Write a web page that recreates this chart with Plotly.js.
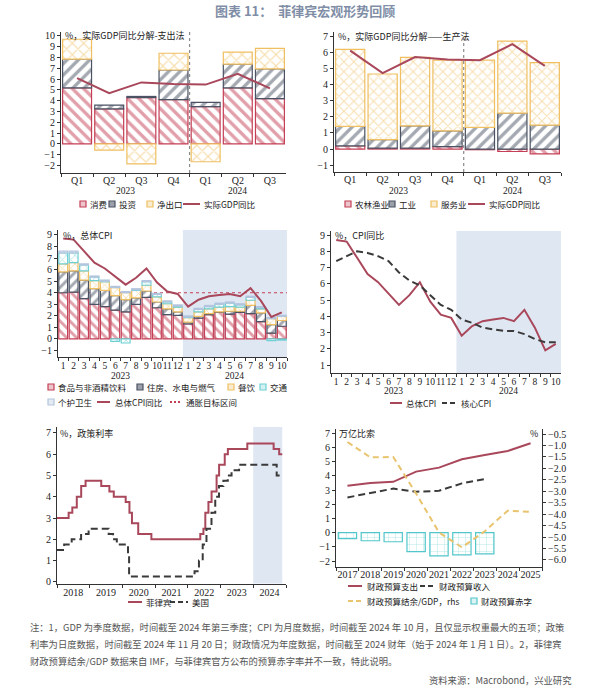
<!DOCTYPE html>
<html><head><meta charset="utf-8">
<script src="https://cdn.plot.ly/plotly-3.0.1.min.js"></script>
<style>html,body{margin:0;padding:0;background:#fff;}#chart{width:610px;height:691px;}</style>
</head><body><div id="chart"></div>
<script>
// ---------- DATA ----------
// Panel 1 & 2: real GDP y/y decomposition (quarterly)
const quarters = ['Q1','Q2','Q3','Q4','Q1','Q2','Q3'];
const qYears = ['2023','2023','2023','2023','2024','2024','2024'];
const consumption = [5.2, 3.25, 4.3, 4.1, 3.45, 5.2, 4.2];
const investment = [2.65, 0.35, 0.1, 2.75, 0.4, 2.2, 2.75];
const netExports = [1.85, -0.58, -1.85, 1.55, -1.65, 1.1, 1.9];
const agriculture = [0.2, 0.06, 0.06, 0.15, -0.04, -0.15, -0.3];
const industry = [1.2, 0.52, 1.38, 0.98, 1.34, 2.22, 1.48];
const services = [4.77, 4.07, 4.24, 4.38, 4.17, 4.47, 3.87];
const realGdp = [6.1, 4.7, 5.7, 5.55, 5.5, 6.5, 5.15];

// Panel 3 & 4: CPI (monthly, 2023-01 .. 2024-10)
const months = ['1','2','3','4','5','6','7','8','9','10','11','12','1','2','3','4','5','6','7','8','9','10'];
const mYears = ['2023','2023','2023','2023','2023','2023','2023','2023','2023','2023','2023','2023','2024','2024','2024','2024','2024','2024','2024','2024','2024','2024'];
const cpiFood = [4.0, 4.05, 3.5, 3.0, 2.8, 2.5, 2.35, 3.0, 3.6, 2.7, 2.1, 2.05, 1.3, 1.8, 2.1, 2.3, 2.15, 2.3, 2.2, 1.5, 0.5, 1.1];
const cpiHousing = [1.8, 1.85, 1.6, 1.35, 1.4, 1.25, 1.05, 0.55, 0.55, 0.5, 0.5, 0.3, 0.15, 0.15, 0.1, 0.05, 0.25, 0.1, 0.7, 0.75, 0.75, 0.5];
const cpiRestaurants = [0.7, 0.7, 0.8, 0.7, 0.75, 0.7, 0.6, 0.65, 0.5, 0.45, 0.45, 0.4, 0.4, 0.4, 0.4, 0.4, 0.4, 0.35, 0.45, 0.35, 0.5, 0.35];
const cpiTransport = [0.95, 0.85, 0.5, 0.3, 0.05, -0.2, -0.35, 0.05, 0.3, 0.2, 0.15, 0.1, 0.05, 0.2, 0.2, 0.25, 0.3, 0.2, 0.25, 0.1, -0.15, -0.1];
const cpiPersonalCare = [0.15, 0.15, 0.1, 0.1, 0.1, 0.1, 0.1, 0.1, 0.1, 0.1, 0.1, 0.1, 0.1, 0.1, 0.1, 0.1, 0.1, 0.1, 0.1, 0.1, 0.1, 0.1];
const cpiHeadline = [8.7, 8.6, 7.6, 6.6, 6.1, 5.4, 4.7, 5.3, 6.1, 4.9, 4.1, 3.9, 2.8, 3.4, 3.7, 3.8, 3.9, 3.7, 4.4, 3.3, 1.9, 2.3];
const cpiCore = [7.4, 7.7, 8.0, 7.9, 7.7, 7.4, 6.7, 6.2, 5.9, 5.3, 4.7, 4.4, 3.8, 3.6, 3.3, 3.2, 3.1, 3.1, 2.9, 2.6, 2.4, 2.4];
const inflationTargetTop = 4;

// Panel 5: policy rates (change dates)
const policyYears = ['2018','2019','2020','2021','2022','2023','2024'];
const phDates = ['2018-01-01','2018-05-11','2018-06-21','2018-08-10','2018-09-28','2018-11-16','2019-05-10','2019-08-09','2019-09-27','2020-02-07','2020-03-20','2020-04-17','2020-06-26','2020-11-20','2022-05-20','2022-06-24','2022-07-15','2022-08-19','2022-09-23','2022-11-18','2022-12-16','2023-02-17','2023-03-24','2023-10-27','2024-08-16','2024-10-17','2024-11-20'];
const phRate = [3.0, 3.25, 3.5, 4.0, 4.5, 4.75, 4.5, 4.25, 4.0, 3.75, 3.25, 2.75, 2.25, 2.0, 2.25, 2.5, 3.25, 3.75, 4.25, 5.0, 5.5, 6.0, 6.25, 6.5, 6.25, 6.0, 6.0];
const usDates = ['2018-01-01','2018-03-22','2018-06-14','2018-09-27','2018-12-20','2019-08-01','2019-09-19','2019-10-31','2020-03-04','2020-03-16','2022-03-17','2022-05-05','2022-06-16','2022-07-28','2022-09-22','2022-11-03','2022-12-15','2023-02-02','2023-03-23','2023-05-04','2023-07-27','2024-09-19','2024-11-20'];
const usRate = [1.5, 1.75, 2.0, 2.25, 2.5, 2.25, 2.0, 1.75, 1.25, 0.25, 0.5, 1.0, 1.75, 2.5, 3.25, 4.0, 4.5, 4.75, 5.0, 5.25, 5.5, 5.0, 5.0];

// Panel 6: fiscal (annual)
const fiscalYears = ['2017','2018','2019','2020','2021','2022','2023','2024','2025'];
const budgetSpending = [3.3, 3.5, 3.58, 4.3, 4.58, 5.17, 5.47, 5.75, 6.3];
const budgetRevenue = [2.48, 2.8, 3.1, 2.88, 2.95, 3.47, 3.77, null, null];
const budgetBalanceGdp = [-0.85, -1.52, -1.5, -3.1, -4.8, -5.45, -4.75, -3.85, -3.9];
const budgetDeficit = [-0.42, -0.57, -0.64, -1.34, -1.63, -1.56, -1.49, null, null];

// ---------- HELPERS ----------
const W = 610, H = 691;
const px = v => v / W;
const py = v => 1 - v / H;
const CJK = '"Noto Sans CJK SC", "Noto Sans", sans-serif';
const SERIF = '"Liberation Serif", "DejaVu Serif", serif';
const RED = '#c43f55', LINE = '#a9475b', GRAY = '#4a5263', DARK = '#3a3a3a', YEL = '#efbf62',
      CYAN = '#6fd0d4', LBLUE = '#b3c5de', SHADE = '#dfe7f2', FCYAN = '#52c6ca', FYEL = '#e9c46f';
const LEGFONT = 8.5;

const qKeys = quarters.map((q, i) => qYears[i] + q);
const mKeys = months.map((m, i) => mYears[i] + '-' + m);

function groupCenters(groups) {
  const res = [];
  groups.forEach((g, i) => {
    let r = res.find(o => o.g === g);
    if (!r) res.push({ g: g, s: i, e: i }); else r.e = i;
  });
  return res.map(r => ({ g: r.g, c: (r.s + r.e) / 2, s: r.s, e: r.e }));
}

function pat(shape, color, size, sol) {
  return { shape: shape, fgcolor: color, bgcolor: '#ffffff', size: size, solidity: sol, fillmode: 'overlay' };
}
function barMarker(shape, color, size, sol, lw) {
  return { color: '#ffffff', line: { color: color, width: lw || 1.2 }, pattern: pat(shape, color, size, sol) };
}

const axBase = {
  showline: true, linecolor: '#333', linewidth: 1, ticks: 'outside', ticklen: 3, tickcolor: '#333',
  showgrid: false, zeroline: false, fixedrange: true,
  tickfont: { family: SERIF, size: 10, color: '#222' }
};
function ax(o) { return Object.assign({}, axBase, o); }

// ---------- TRACES ----------
const traces = [];
function bar(x, y, name, xa, ya, w, mk) { traces.push({ type: 'bar', x: x, y: y, name: name, xaxis: xa, yaxis: ya, width: w, marker: mk, showlegend: false }); }
function line(x, y, name, xa, ya, ln) { traces.push({ type: 'scatter', mode: 'lines', x: x, y: y, name: name, xaxis: xa, yaxis: ya, line: ln, showlegend: false, connectgaps: false }); }
// Panel 1
bar(qKeys, consumption, '消费', 'x', 'y', 0.9, barMarker('\\', RED, 8, 0.42));
bar(qKeys, investment, '投资', 'x', 'y', 0.9, barMarker('/', GRAY, 8, 0.42));
bar(qKeys, netExports, '净出口', 'x', 'y', 0.9, barMarker('x', YEL, 8, 0.28));
line(qKeys, realGdp, '实际GDP同比', 'x', 'y', { color: LINE, width: 2 });
// Panel 2
bar(qKeys, agriculture, '农林渔业', 'x2', 'y2', 0.9, barMarker('\\', RED, 8, 0.42));
bar(qKeys, industry, '工业', 'x2', 'y2', 0.9, barMarker('/', GRAY, 8, 0.42));
bar(qKeys, services, '服务业', 'x2', 'y2', 0.9, barMarker('x', YEL, 7, 0.28));
line(qKeys, realGdp, '实际GDP同比', 'x2', 'y2', { color: LINE, width: 2 });
// Panel 3
bar(mKeys, cpiFood, '食品与非酒精饮料', 'x3', 'y3', 0.85, barMarker('\\', RED, 7, 0.42));
bar(mKeys, cpiHousing, '住房、水电与燃气', 'x3', 'y3', 0.85, barMarker('/', GRAY, 7, 0.42));
bar(mKeys, cpiRestaurants, '餐饮', 'x3', 'y3', 0.85, barMarker('x', YEL, 6, 0.28));
bar(mKeys, cpiTransport, '交通', 'x3', 'y3', 0.85, barMarker('x', CYAN, 6, 0.28));
bar(mKeys, cpiPersonalCare, '个护卫生', 'x3', 'y3', 0.85, barMarker('.', LBLUE, 4, 0.35));
line(mKeys, cpiHeadline, '总体CPI同比', 'x3', 'y3', { color: LINE, width: 2 });
// Panel 4
line(mKeys, cpiHeadline, '总体CPI', 'x4', 'y4', { color: LINE, width: 2 });
line(mKeys, cpiCore, '核心CPI', 'x4', 'y4', { color: DARK, width: 2, dash: '7px,4px' });
// Panel 5
line(phDates, phRate, '菲律宾', 'x5', 'y5', { color: LINE, width: 2, shape: 'hv' });
line(usDates, usRate, '美国', 'x5', 'y5', { color: DARK, width: 2, shape: 'hv', dash: '7px,4px' });
// Panel 6
bar(fiscalYears, budgetDeficit, '财政预算赤字', 'x6', 'y6', 0.8, barMarker('+', FCYAN, 7, 0.12, 1.2));
line(fiscalYears, budgetSpending, '财政预算支出', 'x6', 'y6', { color: LINE, width: 2 });
line(fiscalYears, budgetRevenue, '财政预算收入', 'x6', 'y6', { color: DARK, width: 2, dash: '7px,4px' });
line(fiscalYears, budgetBalanceGdp, '财政预算结余/GDP，rhs', 'x6', 'y7', { color: FYEL, width: 2, dash: '6px,4px' });

// ---------- SHAPES & ANNOTATIONS ----------
const shapes = [];
const annotations = [];
const qGroups = groupCenters(qYears);
const mGroups = groupCenters(mYears);

// year divider (panels 1, 2)
const qSplit = qGroups[1].s - 0.5;
['x', 'x2'].forEach((xa, k) => {
  shapes.push({ type: 'line', xref: xa, yref: (k === 0 ? 'y' : 'y2') + ' domain', x0: qSplit, x1: qSplit, y0: 0, y1: 1, line: { color: '#8a8a8a', width: 1.2, dash: 'dot' }, layer: 'below' });
});
// shading 2024 (panels 3, 4)
const mSplit = mGroups[1].s - 0.5;
['3', '4'].forEach(n => {
  shapes.push({ type: 'rect', xref: 'x' + n, yref: 'y' + n + ' domain', x0: mSplit, x1: months.length - 0.5, y0: 0, y1: 1, fillcolor: SHADE, line: { width: 0 }, layer: 'below' });
});
shapes.push({ type: 'line', xref: 'x3', yref: 'y3', x0: -0.5, x1: months.length - 0.5, y0: inflationTargetTop, y1: inflationTargetTop, line: { color: RED, width: 1.2, dash: '3px,3px' }, layer: 'below' });
// shading panel 5
shapes.push({ type: 'rect', xref: 'x5', yref: 'y5 domain', x0: '2024-01-01', x1: phDates[phDates.length - 1], y0: 0, y1: 1, fillcolor: SHADE, line: { width: 0 }, layer: 'below' });

// year labels
const yl = { family: SERIF, size: 9.5, color: '#222' };
qGroups.forEach(g => {
  annotations.push({ xref: 'x', yref: 'paper', x: g.c, y: py(191), yanchor: 'middle', text: g.g, showarrow: false, font: yl });
  annotations.push({ xref: 'x2', yref: 'paper', x: g.c, y: py(191), yanchor: 'middle', text: g.g, showarrow: false, font: yl });
});
mGroups.forEach(g => {
  annotations.push({ xref: 'x3', yref: 'paper', x: g.c, y: py(376), yanchor: 'middle', text: g.g, showarrow: false, font: yl });
  annotations.push({ xref: 'x4', yref: 'paper', x: g.c, y: py(391), yanchor: 'middle', text: g.g, showarrow: false, font: yl });
});

function txt(t, xp, yp, anchor, size, color, fam) {
  annotations.push({ xref: 'paper', yref: 'paper', x: px(xp), y: py(yp), text: t, showarrow: false, xanchor: anchor || 'left', yanchor: 'middle', font: { family: fam || CJK, size: size || 9, color: color || '#222' } });
}

// ---------- LEGENDS (drawn as keys) ----------
function tint(c, a) {
  const n = parseInt(c.slice(1), 16);
  return 'rgba(' + ((n >> 16) & 255) + ',' + ((n >> 8) & 255) + ',' + (n & 255) + ',' + a + ')';
}
function keyBox(x, y, color, alpha, text, tx) {
  shapes.push({ type: 'rect', xref: 'paper', yref: 'paper', x0: px(x), x1: px(x + 6), y0: py(y + 3), y1: py(y - 3), line: { color: color, width: 1.2 }, fillcolor: tint(color, alpha) });
  txt(text, tx, y, 'left', LEGFONT);
}
function keyLine(x0, x1, y, color, dash, text, tx) {
  shapes.push({ type: 'line', xref: 'paper', yref: 'paper', x0: px(x0), x1: px(x1), y0: py(y), y1: py(y), line: { color: color, width: 2, dash: dash || 'solid' } });
  txt(text, tx, y, 'left', LEGFONT);
}
// Panel 1
keyBox(80, 204, RED, 0.3, '消费', 88);
keyBox(109, 204, GRAY, 0.55, '投资', 117);
keyBox(147, 204, YEL, 0.3, '净出口', 155);
keyLine(183, 200, 204, LINE, null, '实际GDP同比', 202);
// Panel 2
keyBox(345, 204, RED, 0.3, '农林渔业', 353);
keyBox(389, 204, GRAY, 0.55, '工业', 397);
keyBox(431, 204, YEL, 0.3, '服务业', 439);
keyLine(468, 485, 204, LINE, null, '实际GDP同比', 487);
// Panel 3
keyBox(48, 387, RED, 0.3, '食品与非酒精饮料', 56);
keyBox(137, 387, GRAY, 0.55, '住房、水电与燃气', 145);
keyBox(228, 387, YEL, 0.3, '餐饮', 236);
keyBox(260, 387, CYAN, 0.3, '交通', 268);
keyBox(48, 402, LBLUE, 0.35, '个护卫生', 56);
keyLine(97, 110, 402, LINE, null, '总体CPI同比', 113);
keyLine(170, 182, 402, RED, '2px,2px', '通胀目标区间', 184);
// Panel 4
keyLine(390, 402, 403, LINE, null, '总体CPI', 404);
keyLine(442, 457, 403, DARK, '5px,3px', '核心CPI', 459);
// Panel 5
keyLine(128, 142, 602, LINE, null, '菲律宾', 144);
keyLine(170, 188, 602, DARK, '5px,3px', '美国', 190);
// Panel 6
keyLine(348, 362, 586, LINE, null, '财政预算支出', 365);
keyLine(420, 435, 586, DARK, '5px,3px', '财政预算收入', 437);
keyLine(348, 362, 601, FYEL, '5px,3px', '财政预算结余/GDP，rhs', 365);
keyBox(471, 601, FCYAN, 0.2, '财政预算赤字', 479);

// panel titles
txt('%，实际GDP同比分解-支出法', 63, 35);
txt('%，实际GDP同比分解——生产法', 336, 36);
txt('%，总体CPI', 61, 235);
txt('%，CPI同比', 333, 235);
txt('%，政策利率', 58, 433);
txt('万亿比索', 337, 433);
txt('%', 540, 433, 'right');
// main title
txt('<b>图表 11：  菲律宾宏观形势回顾</b>', 305, 10, 'center', 13, '#7f8ea6');
// notes
const noteColor = '#555';
txt('注：1，GDP 为季度数据，时间截至 2024 年第三季度；CPI 为月度数据，时间截至 2024 年 10 月，且仅显示权重最大的五项；政策', 28, 627, 'left', 9.3, noteColor);
txt('利率为日度数据，时间截至 2024 年 11 月 20 日；财政情况为年度数据，时间截至 2024 财年（始于 2024 年 1 月 1 日）。2，菲律宾', 28, 644, 'left', 9.3, noteColor);
txt('财政预算结余/GDP 数据来自 IMF，与菲律宾官方公布的预算赤字率并不一致，特此说明。', 28, 661, 'left', 9.3, noteColor);
txt('资料来源：Macrobond，兴业研究', 573, 680, 'right', 9.3, noteColor);

// ---------- LAYOUT ----------
const layout = {
  width: W, height: H, margin: { l: 0, r: 0, t: 0, b: 0 },
  paper_bgcolor: '#fff', plot_bgcolor: 'rgba(0,0,0,0)',
  barmode: 'relative', hovermode: false, showlegend: false,
  font: { family: CJK, size: 9, color: '#222' },
  xaxis: ax({ type: 'category', domain: [px(61), px(286)], anchor: 'y', range: [-0.5, quarters.length - 0.5], tickmode: 'array', tickvals: qKeys, ticktext: quarters, tickson: 'boundaries', tickangle: 0, ticklabelstandoff: -2 }),
  yaxis: ax({ domain: [py(173), py(32)], anchor: 'x', range: [-2.69, 10.37], dtick: 1, tick0: 0 }),
  xaxis2: ax({ type: 'category', domain: [px(334), px(561)], anchor: 'y2', range: [-0.5, quarters.length - 0.5], tickmode: 'array', tickvals: qKeys, ticktext: quarters, tickson: 'boundaries', tickangle: 0, ticklabelstandoff: -2 }),
  yaxis2: ax({ domain: [py(172), py(32)], anchor: 'x2', range: [-1.42, 7.25], dtick: 1, tick0: 0 }),
  xaxis3: ax({ type: 'category', domain: [px(58), px(287)], anchor: 'y3', range: [-0.5, months.length - 0.5], tickmode: 'array', tickvals: mKeys, ticktext: months, tickson: 'boundaries', tickangle: 0, tickfont: { family: SERIF, size: 9.5, color: '#222' } }),
  yaxis3: ax({ domain: [py(357), py(230)], anchor: 'x3', range: [-1.56, 9.43], dtick: 1, tick0: 0 }),
  xaxis4: ax({ type: 'category', domain: [px(331), px(561)], anchor: 'y4', range: [-0.5, months.length - 0.5], tickmode: 'array', tickvals: mKeys, ticktext: months, tickson: 'boundaries', tickangle: 0, tickfont: { family: SERIF, size: 9.5, color: '#222' } }),
  yaxis4: ax({ domain: [py(373), py(231)], anchor: 'x4', range: [0.51, 9.25], dtick: 1, tick0: 0 }),
  xaxis5: ax({ type: 'date', domain: [px(57), px(286)], anchor: 'y5', range: ['2018-01-01', '2025-01-01'], tickmode: 'array', tickvals: policyYears.map(y => y + '-07-02'), ticktext: policyYears, ticks: '', tickangle: 0, ticklabelstandoff: -1,
    minor: { ticks: 'outside', ticklen: 3, tickcolor: '#333', dtick: 'M12', tick0: '2018-01-01', showgrid: false } }),
  yaxis5: ax({ domain: [py(583.5), py(427)], anchor: 'x5', range: [-0.08, 7.28], dtick: 1, tick0: 0 }),
  xaxis6: ax({ type: 'category', domain: [px(336), px(542)], anchor: 'y6', range: [-0.5, fiscalYears.length - 0.5], tickson: 'boundaries', tickangle: 0, ticklabelstandoff: -2 }),
  yaxis6: ax({ domain: [py(567), py(429)], anchor: 'x6', range: [-2.42, 7.3], dtick: 1, tick0: 0 }),
  yaxis7: ax({ overlaying: 'y6', side: 'right', anchor: 'x6', range: [-6.31, -0.28], dtick: 0.5, tick0: 0, tickformat: '.1f' }),
  shapes: shapes,
  annotations: annotations
};

Plotly.newPlot('chart', traces, layout, { staticPlot: true, displayModeBar: false });
</script>
</body></html>
